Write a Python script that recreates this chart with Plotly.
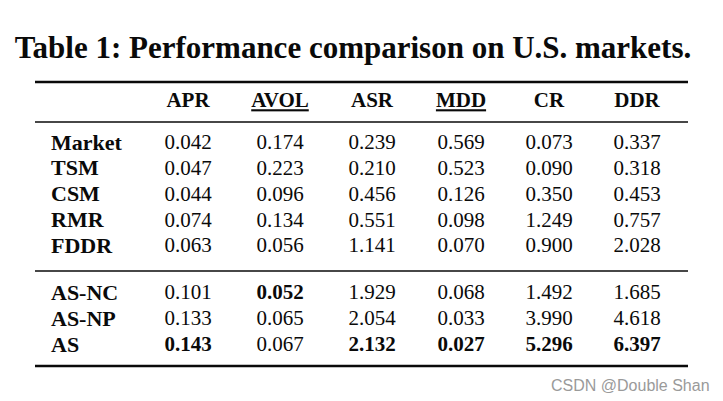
import plotly.graph_objects as go

# table data
columns = ["APR", "AVOL", "ASR", "MDD", "CR", "DDR"]
lower_better = ["AVOL", "MDD"]   # underlined in header
baselines = ["Market", "TSM", "CSM", "RMR", "FDDR"]
ours = ["AS-NC", "AS-NP", "AS"]

apr = [0.042, 0.047, 0.044, 0.074, 0.063, 0.101, 0.133, 0.143]
avol = [0.174, 0.223, 0.096, 0.134, 0.056, 0.052, 0.065, 0.067]
asr = [0.239, 0.210, 0.456, 0.551, 1.141, 1.929, 2.054, 2.132]
mdd = [0.569, 0.523, 0.126, 0.098, 0.070, 0.068, 0.033, 0.027]
cr = [0.073, 0.090, 0.350, 1.249, 0.900, 1.492, 3.990, 5.296]
ddr = [0.337, 0.318, 0.453, 0.757, 2.028, 1.685, 4.618, 6.397]

values = [apr, avol, asr, mdd, cr, ddr]
methods = baselines + ours

# layout, in page pixels (page body has an 8px margin)
W, H = 723, 401
off = 8
col_x = [188, 280, 372, 461, 549, 637]
label_x = 51
header_y = 102
row_y = [144 + i * 25.75 for i in range(len(baselines))] + \
        [294 + i * 26 for i in range(len(ours))]
rules = [(82, 2.6), (122, 1.4), (271, 1.4), (366, 2.6)]
serif = "Liberation Serif"
ink = "#0a0a0a"
fs = 21

fig = go.Figure()

# header
hdr = ["<u>%s</u>" % c if c in lower_better else c for c in columns]
fig.add_trace(go.Scatter(x=col_x, y=[header_y] * len(columns), mode="text",
                         text=["<b>%s</b>" % h for h in hdr],
                         textfont=dict(family=serif, size=fs, color=ink),
                         hoverinfo="skip", showlegend=False))

# row labels
fig.add_trace(go.Scatter(x=[label_x] * len(methods), y=row_y, mode="text",
                         text=["<b>%s</b>" % m for m in methods],
                         textposition="middle right",
                         textfont=dict(family=serif, size=fs + 1, color=ink),
                         hoverinfo="skip", showlegend=False))

# cells, best value per column in bold
xs, ys, txt = [], [], []
for j, col in enumerate(columns):
    vals = values[j]
    best = min(vals) if col in lower_better else max(vals)
    for i, v in enumerate(vals):
        s = "%.3f" % v
        xs.append(col_x[j])
        ys.append(row_y[i])
        txt.append("<b>%s</b>" % s if v == best else s)
fig.add_trace(go.Scatter(x=xs, y=ys, mode="text", text=txt,
                         textfont=dict(family=serif, size=fs, color=ink),
                         hoverinfo="skip", showlegend=False))

for y, w in rules:
    fig.add_shape(type="line", x0=35, x1=688, y0=y, y1=y, xref="x", yref="y",
                  line=dict(color=ink, width=w))

fig.update_layout(
    width=W, height=H,
    margin=dict(l=0, r=0, t=0, b=0),
    paper_bgcolor="white", plot_bgcolor="white",
    title=dict(text="<b>Table 1: Performance comparison on U.S. markets.</b>",
               x=(353 - off) / W, xanchor="center", y=1 - (47 - off) / H, yanchor="middle",
               font=dict(family=serif, size=31, color=ink)),
    xaxis=dict(range=[off, W + off], visible=False, fixedrange=True),
    yaxis=dict(range=[H + off, off], visible=False, fixedrange=True),
)

fig.add_annotation(text="CSDN @Double Shan", x=712, y=385, xref="x", yref="y",
                   xanchor="right", yanchor="middle", showarrow=False,
                   font=dict(family="Liberation Sans", size=16, color="#9a9a9a"))

fig.write_html("out.html")
